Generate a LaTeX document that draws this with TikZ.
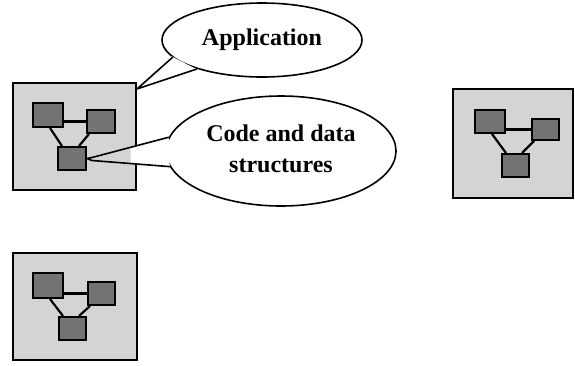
\documentclass[tikz,border=0pt]{standalone}
\usepackage{fontspec}
\setmainfont{Liberation Serif}
\usetikzlibrary{shapes.geometric,calc}
\tikzset{
  panel/.style={draw=black, line width=2.2pt, fill=black!17, inner sep=0pt},
  sq/.style={draw=black, line width=2pt, fill=black!55, inner sep=0pt},
  link/.style={line width=2.2pt},
  bubble/.style={ellipse, draw=black, line width=1.6pt, inner sep=0pt,
    font=\bfseries\fontsize{24}{31}\selectfont, align=center},
  tail/.style={line width=1.6pt, line join=round}
}
\begin{document}
\begin{tikzpicture}[x=1pt, y=-1pt]
\useasboundingbox (0,0) rectangle (575,365);

% three process panels, each holding a small graph of three blocks
\node[panel, minimum width=123pt, minimum height=107pt] (p1) at (74.5,136.5) {};
\node[sq, minimum width=30pt, minimum height=24pt] (p1l) at (48,115) {};
\node[sq, minimum width=28pt, minimum height=23pt] (p1r) at (101,121.5) {};
\node[sq, minimum width=28pt, minimum height=23pt] (p1b) at (72,158.5) {};
\draw[link] (p1r.west -| p1l.east) -- (p1r.west);
\draw[link] ([xshift=2pt]p1l.south) -- ([xshift=5pt]p1b.north west);
\draw[link] ([xshift=3pt]p1r.south west) -- ([xshift=-8pt]p1b.north east);

\node[panel, minimum width=120pt, minimum height=109pt] (p2) at (513,143.5) {};
\node[sq, minimum width=30pt, minimum height=23pt] (p2l) at (490,121.5) {};
\node[sq, minimum width=27pt, minimum height=21pt] (p2r) at (545.5,129.5) {};
\node[sq, minimum width=27pt, minimum height=23pt] (p2b) at (515.5,165.5) {};
\draw[link] (p2r.west -| p2l.east) -- (p2r.west);
\draw[link] ([xshift=2pt]p2l.south) -- ([xshift=5pt]p2b.north west);
\draw[link] ([xshift=3pt]p2r.south west) -- ([xshift=-8pt]p2b.north east);

\node[panel, minimum width=124pt, minimum height=107pt] (p3) at (75,306.5) {};
\node[sq, minimum width=30pt, minimum height=25pt] (p3l) at (48,285.5) {};
\node[sq, minimum width=27pt, minimum height=23pt] (p3r) at (101.5,293.5) {};
\node[sq, minimum width=27pt, minimum height=23pt] (p3b) at (72.5,328.5) {};
\draw[link] (p3r.west -| p3l.east) -- (p3r.west);
\draw[link] ([xshift=2pt]p3l.south) -- ([xshift=5pt]p3b.north west);
\draw[link] ([xshift=3pt]p3r.south west) -- ([xshift=-8pt]p3b.north east);

% callout bubbles
\node[bubble, minimum width=200pt, minimum height=74pt] (app) at (262,40) {Application};
\node[bubble, minimum width=230pt, minimum height=110pt] (code) at (281,151)
  {\raisebox{4pt}{\begin{tabular}{@{}c@{}}Code and data\\structures\end{tabular}}};

% callout tails
\coordinate (atip) at ([yshift=-7pt]p1.north east);
\coordinate (aa) at (app.191.7);
\coordinate (ab) at (app.204.3);
\fill[white] ($(atip)!0.5!(aa)$) -- ($(aa)+(-1,-1)$) -- ($(ab)+(1,1)$) -- ($(atip)!0.5!(ab)$) -- cycle;
\draw[tail] (aa) -- (atip) -- (ab);

\coordinate (ctip) at ([xshift=5pt]p1b.east);
\coordinate (ca) at (code.173);
\coordinate (cb) at (code.188);
\fill[white] ($(ctip)!0.5!(ca)$) -- ($(ca)+(0,-1)$) -- ($(cb)+(0,1)$) -- ($(ctip)!0.5!(cb)$) -- cycle;
\draw[tail] (ca) -- ([yshift=1pt]ctip) -- (p1b.east) -- ([yshift=-2pt]ctip) -- (cb);
\end{tikzpicture}
\end{document}
